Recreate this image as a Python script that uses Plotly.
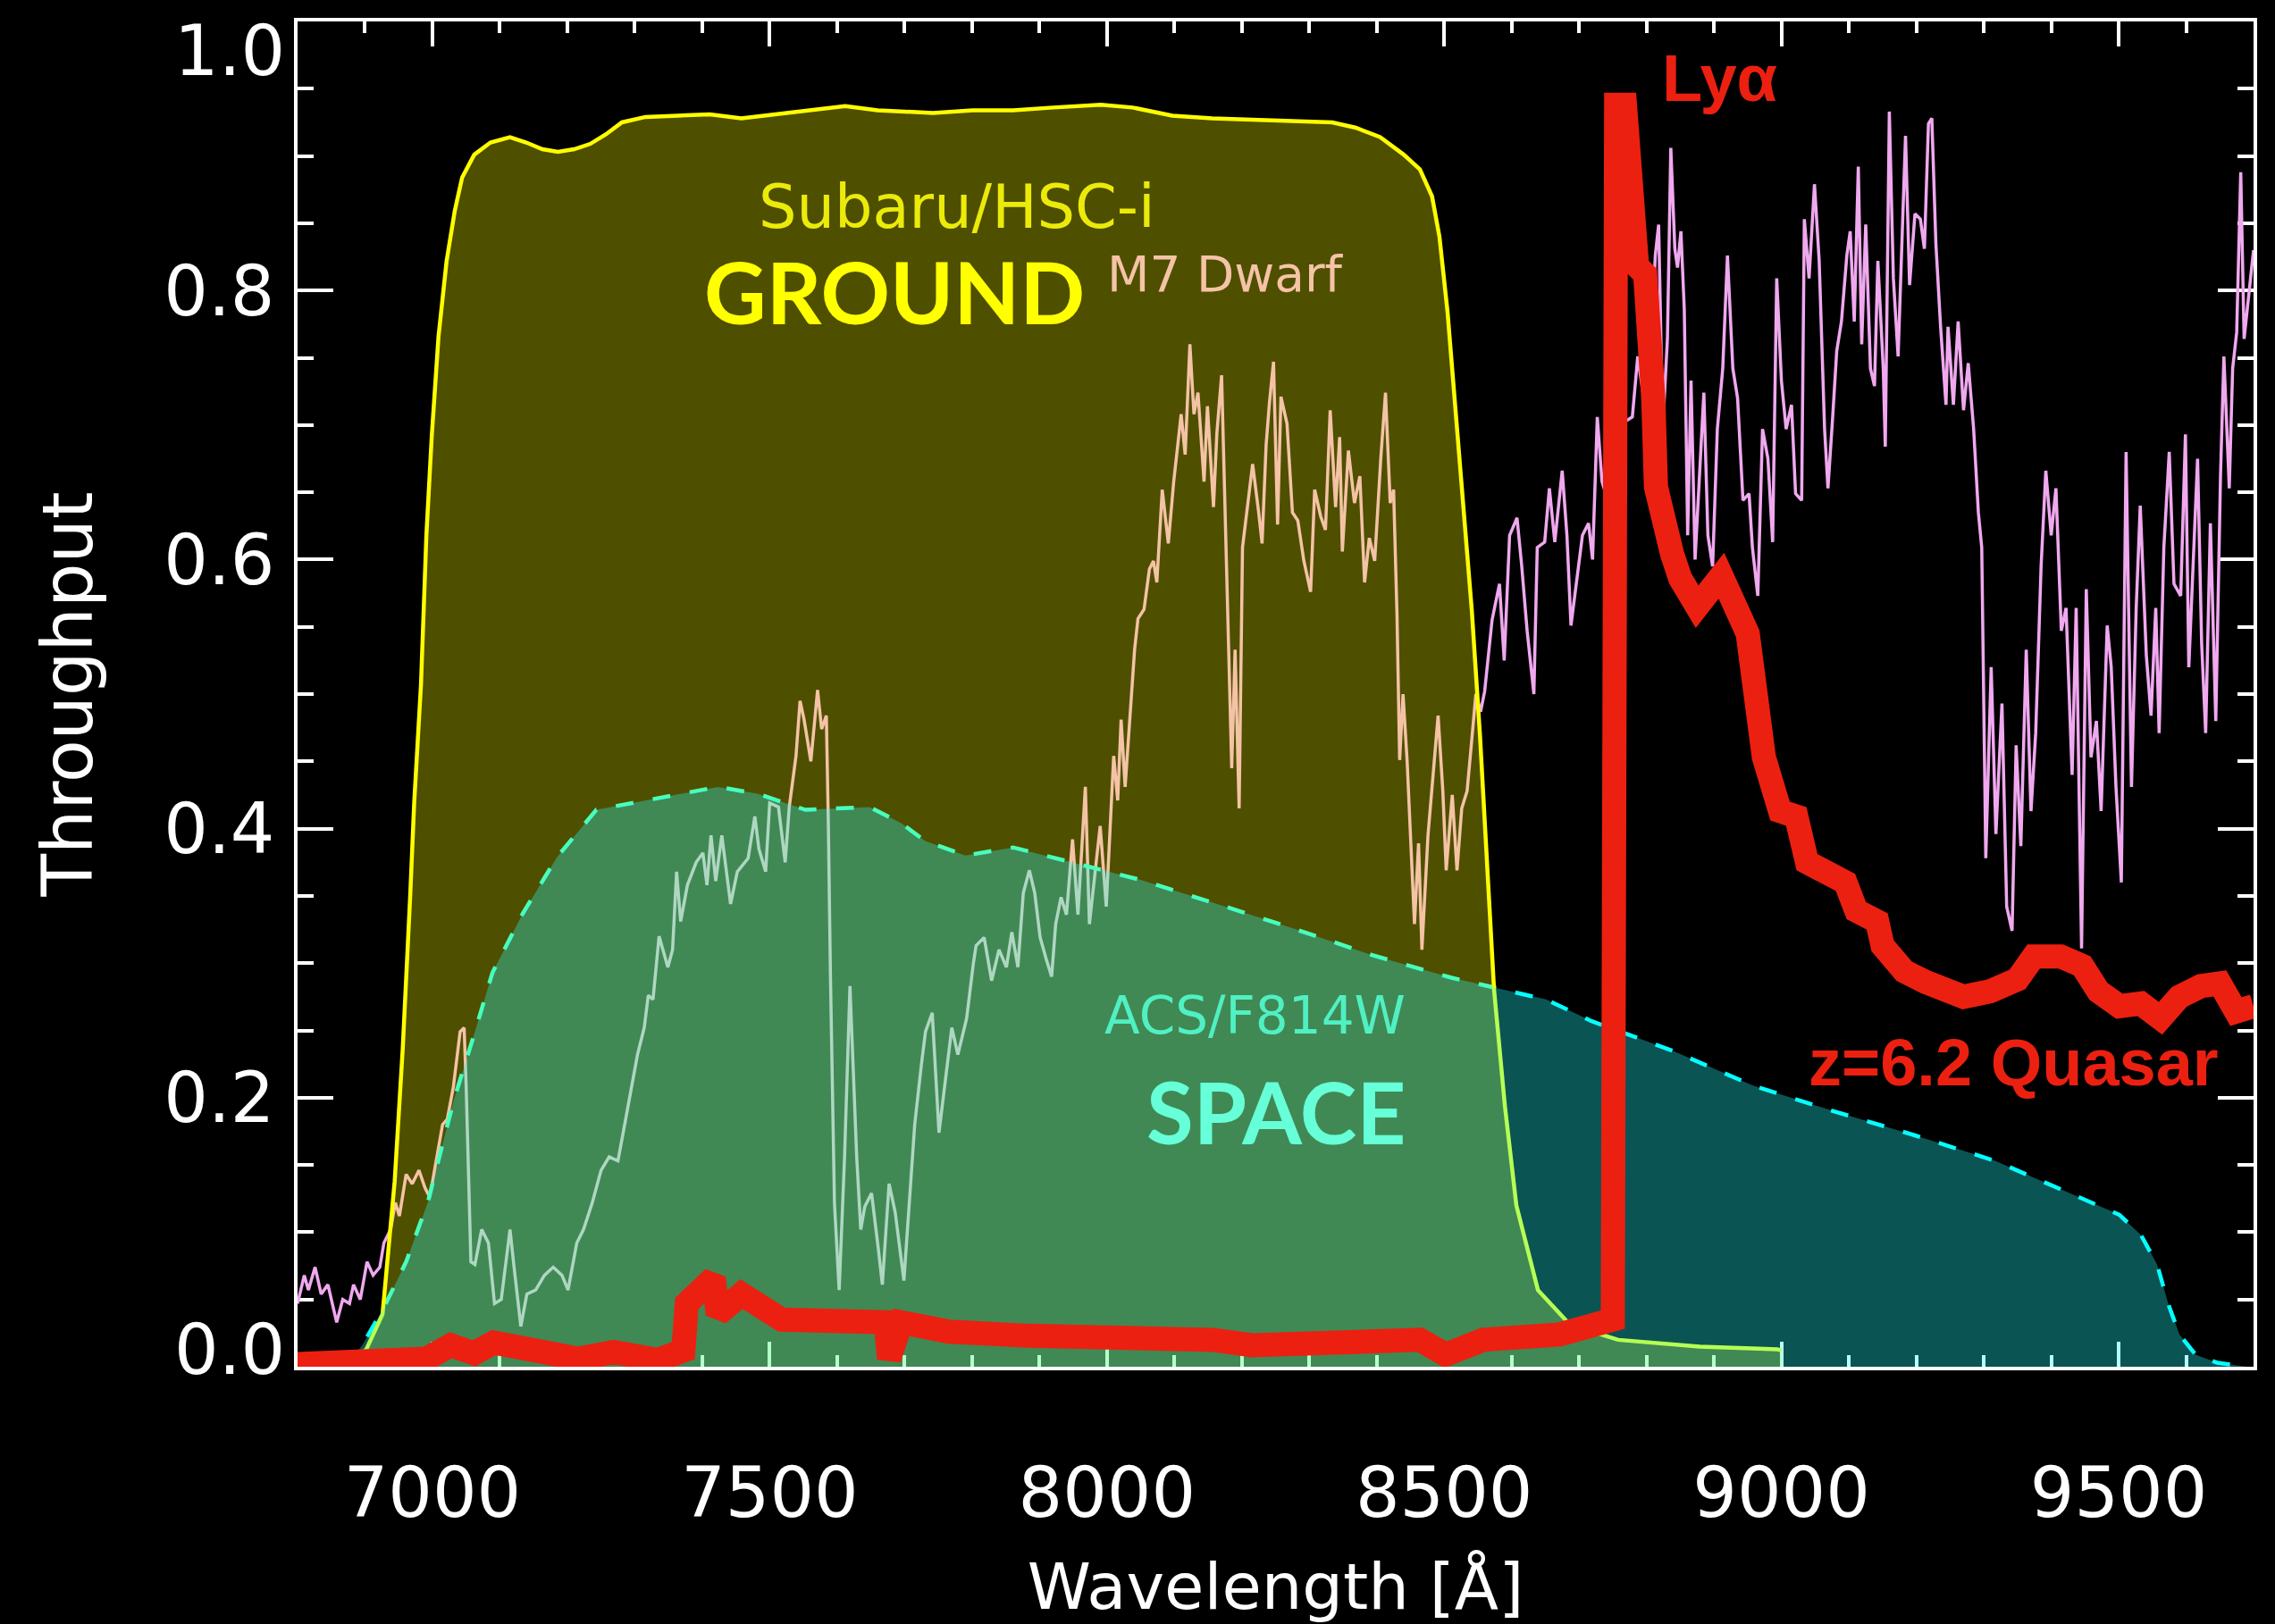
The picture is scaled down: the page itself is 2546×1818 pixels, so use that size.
import plotly.graph_objects as go

# --- M7 dwarf spectrum (normalised flux) ---
dwarf_wave = [
    6800, 6810, 6816, 6826, 6835, 6845, 6858, 6867, 6877, 6883, 6893, 6903, 6912, 6922, 6928, 6938,
    6945, 6951, 6961, 6970, 6980, 6989, 6996, 7006, 7015, 7022, 7031, 7041, 7047, 7050, 7057, 7063,
    7073, 7083, 7092, 7102, 7115, 7121, 7131, 7140, 7153, 7166, 7179, 7192, 7201, 7214, 7224, 7237,
    7250, 7262, 7275, 7285, 7295, 7304, 7314, 7320, 7327, 7336, 7349, 7356, 7362, 7368, 7378, 7391,
    7401, 7407, 7413, 7420, 7429, 7442, 7452, 7468, 7478, 7484, 7494, 7500, 7513, 7523, 7529, 7539,
    7545, 7551, 7561, 7571, 7577, 7584, 7587, 7590, 7596, 7603, 7611, 7619, 7629, 7635, 7641, 7651,
    7661, 7667, 7677, 7686, 7699, 7709, 7715, 7725, 7731, 7741, 7751, 7760, 7770, 7779, 7792, 7802,
    7806, 7818, 7829, 7840, 7851, 7859, 7868, 7876, 7885, 7893, 7901, 7910, 7918, 7924, 7932, 7940,
    7949, 7957, 7968, 7974, 7982, 7990, 7999, 8004, 8010, 8016, 8021, 8027, 8035, 8041, 8046, 8055,
    8063, 8069, 8074, 8082, 8091, 8099, 8105, 8110, 8116, 8123, 8129, 8135, 8144, 8149, 8158, 8163,
    8170, 8174, 8180, 8185, 8190, 8196, 8201, 8208, 8216, 8225, 8230, 8236, 8241, 8247, 8253, 8258,
    8267, 8275, 8283, 8292, 8302, 8308, 8317, 8324, 8331, 8339, 8345, 8349, 8358, 8367, 8375, 8382,
    8389, 8397, 8406, 8413, 8420, 8425, 8430, 8434, 8439, 8445, 8450, 8456, 8462, 8467, 8476, 8484,
    8491, 8498, 8503, 8512, 8519, 8526, 8534, 8540, 8547, 8554, 8560, 8571, 8582, 8589, 8597, 8608,
    8615, 8623, 8633, 8638, 8649, 8656, 8664, 8675, 8682, 8688, 8697, 8705, 8714, 8720, 8727, 8734,
    8745, 8760, 8779, 8787, 8801, 8813, 8818, 8824, 8831, 8836, 8842, 8846, 8851, 8856, 8861, 8866,
    8872, 8878, 8885, 8891, 8898, 8905, 8913, 8920, 8928, 8935, 8943, 8952, 8957, 8965, 8972, 8980,
    8987, 8993, 9000, 9007, 9015, 9021, 9030, 9034, 9041, 9049, 9056, 9064, 9069, 9076, 9082, 9089,
    9097, 9102, 9108, 9114, 9119, 9125, 9132, 9138, 9143, 9151, 9154, 9160, 9166, 9173, 9178, 9184,
    9190, 9198, 9206, 9212, 9218, 9223, 9229, 9236, 9244, 9247, 9255, 9262, 9270, 9277, 9285, 9292,
    9297, 9303, 9311, 9318, 9327, 9334, 9342, 9348, 9355, 9363, 9370, 9377, 9385, 9392, 9400, 9407,
    9415, 9422, 9431, 9437, 9445, 9452, 9459, 9467, 9474, 9483, 9489, 9496, 9504, 9511, 9519, 9526,
    9532, 9541, 9548, 9555, 9560, 9567, 9575, 9582, 9592, 9599, 9604, 9612, 9617, 9623, 9629, 9636,
    9644, 9651, 9656, 9664, 9669, 9675, 9681, 9686, 9693, 9700,
]
dwarf_flux = [
    0.047, 0.068, 0.057, 0.074, 0.054, 0.061, 0.033, 0.050, 0.047, 0.061, 0.050, 0.078, 0.068, 0.074, 0.092, 0.102,
    0.122, 0.112, 0.143, 0.136, 0.146, 0.133, 0.126, 0.156, 0.180, 0.184, 0.208, 0.249, 0.252, 0.208, 0.078, 0.076,
    0.102, 0.092, 0.047, 0.050, 0.102, 0.074, 0.030, 0.054, 0.057, 0.068, 0.074, 0.068, 0.057, 0.092, 0.102, 0.122,
    0.146, 0.156, 0.153, 0.180, 0.208, 0.232, 0.252, 0.276, 0.273, 0.320, 0.297, 0.310, 0.368, 0.331, 0.358, 0.375,
    0.382, 0.358, 0.395, 0.361, 0.395, 0.344, 0.368, 0.378, 0.409, 0.385, 0.368, 0.419, 0.416, 0.375, 0.416, 0.454,
    0.495, 0.481, 0.450, 0.503, 0.474, 0.484, 0.402, 0.293, 0.122, 0.057, 0.156, 0.283, 0.156, 0.102, 0.119, 0.129,
    0.088, 0.061, 0.136, 0.115, 0.064, 0.133, 0.180, 0.225, 0.249, 0.263, 0.174, 0.211, 0.252, 0.232, 0.259, 0.300,
    0.313, 0.319, 0.287, 0.310, 0.297, 0.323, 0.297, 0.352, 0.369, 0.352, 0.319, 0.303, 0.290, 0.329, 0.349, 0.336,
    0.392, 0.336, 0.431, 0.329, 0.366, 0.402, 0.342, 0.389, 0.454, 0.421, 0.481, 0.431, 0.494, 0.533, 0.556, 0.563,
    0.593, 0.599, 0.583, 0.652, 0.612, 0.658, 0.685, 0.708, 0.678, 0.760, 0.708, 0.724, 0.658, 0.714, 0.639, 0.694,
    0.737, 0.658, 0.543, 0.445, 0.533, 0.415, 0.609, 0.639, 0.671, 0.635, 0.612, 0.685, 0.717, 0.747, 0.626, 0.721,
    0.701, 0.635, 0.629, 0.599, 0.576, 0.652, 0.632, 0.622, 0.711, 0.639, 0.691, 0.606, 0.681, 0.642, 0.662, 0.583,
    0.616, 0.599, 0.675, 0.724, 0.642, 0.652, 0.560, 0.451, 0.500, 0.451, 0.395, 0.329, 0.389, 0.310, 0.395, 0.445,
    0.484, 0.428, 0.369, 0.425, 0.369, 0.415, 0.428, 0.461, 0.500, 0.487, 0.502, 0.555, 0.582, 0.525, 0.618, 0.631,
    0.595, 0.547, 0.500, 0.609, 0.613, 0.653, 0.613, 0.666, 0.618, 0.551, 0.587, 0.618, 0.627, 0.600, 0.706, 0.658,
    0.640, 0.700, 0.706, 0.751, 0.702, 0.826, 0.849, 0.697, 0.764, 0.906, 0.831, 0.817, 0.844, 0.786, 0.618, 0.733,
    0.600, 0.662, 0.724, 0.618, 0.595, 0.697, 0.742, 0.826, 0.742, 0.720, 0.644, 0.649, 0.609, 0.573, 0.697, 0.675,
    0.613, 0.809, 0.733, 0.697, 0.715, 0.649, 0.644, 0.853, 0.809, 0.879, 0.822, 0.697, 0.653, 0.706, 0.755, 0.777,
    0.826, 0.844, 0.777, 0.892, 0.760, 0.849, 0.742, 0.729, 0.822, 0.742, 0.684, 0.933, 0.809, 0.751, 0.831, 0.915,
    0.804, 0.857, 0.853, 0.831, 0.924, 0.928, 0.835, 0.773, 0.715, 0.773, 0.715, 0.777, 0.711, 0.746, 0.697, 0.635,
    0.609, 0.378, 0.520, 0.396, 0.493, 0.342, 0.324, 0.462, 0.387, 0.533, 0.413, 0.471, 0.595, 0.666, 0.618, 0.653,
    0.547, 0.564, 0.440, 0.564, 0.311, 0.578, 0.453, 0.480, 0.413, 0.551, 0.520, 0.431, 0.360, 0.680, 0.431, 0.564,
    0.640, 0.529, 0.484, 0.564, 0.471, 0.609, 0.680, 0.582, 0.573, 0.693, 0.520, 0.618, 0.675, 0.538, 0.471, 0.627,
    0.480, 0.662, 0.751, 0.653, 0.742, 0.769, 0.888, 0.764, 0.800, 0.830,
]

# --- Subaru/HSC-i throughput ---
hsc_wave = [6850, 6880, 6902, 6926, 6944, 6956, 6967, 6973, 6983, 6991, 6999, 7009, 7021, 7033, 7044,
            7062, 7086, 7115, 7139, 7163, 7186, 7210, 7234, 7257, 7281, 7316, 7364, 7411, 7458, 7506,
            7565, 7612, 7660, 7695, 7742, 7801, 7861, 7920, 7991, 8038, 8097, 8156, 8215, 8275, 8334,
            8369, 8405, 8440, 8464, 8482, 8493, 8505, 8517, 8529, 8541, 8553, 8564, 8574, 8590, 8607,
            8639, 8687, 8758, 8879, 8994, 9000]
hsc_thr = [0.0, 0.004, 0.013, 0.039, 0.138, 0.237, 0.350, 0.420, 0.507, 0.618, 0.692, 0.766, 0.822, 0.859, 0.884,
           0.901, 0.910, 0.914, 0.910, 0.905, 0.903, 0.905, 0.909, 0.916, 0.925, 0.929, 0.930, 0.931, 0.928, 0.931,
           0.934, 0.937, 0.934, 0.933, 0.932, 0.934, 0.934, 0.936, 0.938, 0.936, 0.930, 0.928, 0.927, 0.926, 0.925,
           0.921, 0.914, 0.901, 0.890, 0.870, 0.840, 0.784, 0.711, 0.636, 0.562, 0.470, 0.371, 0.280, 0.194, 0.120,
           0.057, 0.031, 0.020, 0.015, 0.013, 0.012]

# --- HST ACS/F814W throughput ---
acs_wave = [6870, 6896, 6928, 6961, 6993, 7031, 7063, 7089, 7134, 7185, 7243, 7317, 7423, 7482, 7553,
            7648, 7695, 7730, 7790, 7861, 7931, 8049, 8157, 8275, 8393, 8512, 8651, 8718, 8838, 8958,
            9077, 9198, 9317, 9438, 9501, 9533, 9557, 9574, 9590, 9614, 9646, 9690]
acs_thr = [0.0, 0.016, 0.044, 0.078, 0.122, 0.197, 0.249, 0.293, 0.337, 0.379, 0.414, 0.421, 0.431, 0.426, 0.414,
           0.416, 0.404, 0.391, 0.380, 0.386, 0.377, 0.362, 0.345, 0.326, 0.306, 0.289, 0.273, 0.257, 0.235, 0.209,
           0.190, 0.172, 0.153, 0.127, 0.113, 0.098, 0.076, 0.046, 0.024, 0.009, 0.003, 0.0]

# --- z=6.2 quasar template ---
qso_wave = [6800, 6991, 7027, 7062, 7091, 7216, 7269, 7334, 7372, 7377, 7417, 7423, 7458, 7518, 7672,
            7677, 7695, 7766, 7884, 8003, 8157, 8215, 8322, 8464, 8502, 8558, 8671, 8750, 8755, 8768,
            8786, 8798, 8810, 8814, 8838, 8850, 8875, 8911, 8950, 8974, 8998, 9022, 9038, 9069, 9095,
            9111, 9142, 9150, 9182, 9214, 9270, 9309, 9350, 9374, 9414, 9446, 9470, 9501, 9533, 9562,
            9590, 9622, 9650, 9674, 9700]
qso_flux = [0.002, 0.006, 0.016, 0.010, 0.018, 0.006, 0.011, 0.005, 0.012, 0.047, 0.066, 0.039, 0.054, 0.035, 0.033,
            0.006, 0.033, 0.026, 0.023, 0.023, 0.020, 0.016, 0.016, 0.020, 0.009, 0.020, 0.024, 0.035, 0.938, 0.938,
            0.818, 0.812, 0.720, 0.654, 0.604, 0.586, 0.565, 0.588, 0.545, 0.453, 0.413, 0.409, 0.375, 0.364, 0.360,
            0.339, 0.331, 0.313, 0.294, 0.286, 0.275, 0.279, 0.288, 0.305, 0.305, 0.298, 0.279, 0.268, 0.270, 0.259,
            0.275, 0.283, 0.285, 0.264, 0.268]

x_ticks = [7000, 7500, 8000, 8500, 9000, 9500]
y_ticks = [0.0, 0.2, 0.4, 0.6, 0.8, 1.0]

DWARF = "rgb(240,168,239)"
YELLOW = "rgb(255,255,0)"
CYAN = "rgb(0,255,255)"
RED = "rgb(236,32,16)"
LABEL_FONT = "DejaVu Sans"

fig = go.Figure()

# dwarf spectrum sits underneath both filter fills
fig.add_trace(go.Scatter(x=dwarf_wave, y=dwarf_flux, mode="lines",
                         line=dict(color=DWARF, width=3.5), hoverinfo="skip"))
# ACS edge (dashed) drawn before the HSC fill so it is tinted inside it
fig.add_trace(go.Scatter(x=acs_wave, y=acs_thr, mode="lines",
                         line=dict(color=CYAN, width=4.5, dash="20px,22px"), hoverinfo="skip"))
# HSC-i filter: translucent yellow fill with solid edge
fig.add_trace(go.Scatter(x=hsc_wave, y=hsc_thr, mode="lines", fill="tozeroy",
                         fillcolor="rgba(255,255,0,0.31)",
                         line=dict(color=YELLOW, width=4.5), hoverinfo="skip"))
# ACS/F814W fill on top
fig.add_trace(go.Scatter(x=acs_wave, y=acs_thr, mode="lines", fill="tozeroy",
                         fillcolor="rgba(34,255,255,0.33)",
                         line=dict(color="rgba(0,0,0,0)", width=0), hoverinfo="skip"))
# quasar
fig.add_trace(go.Scatter(x=qso_wave, y=qso_flux, mode="lines",
                         line=dict(color=RED, width=27), hoverinfo="skip"))

ann = [
    dict(x=7778, y=0.862, text="Subaru/HSC-i", font=dict(family=LABEL_FONT, size=67, color="rgb(235,235,10)")),
    dict(x=7685, y=0.800, text="GROUND", font=dict(family="Lato", size=96, color=YELLOW, weight="bold")),
    dict(x=8176, y=0.812, text="M7 Dwarf", font=dict(family=LABEL_FONT, size=55, color="rgb(245,195,165)")),
    dict(x=8220, y=0.261, text="ACS/F814W", font=dict(family=LABEL_FONT, size=58, color="rgb(80,240,195)")),
    dict(x=8251, y=0.190, text="SPACE", font=dict(family="Lato", size=96, color="rgb(102,255,216)", weight="bold")),
    dict(x=8908, y=0.958, text="Lyα", font=dict(family="Liberation Sans", size=74, color=RED, weight="bold")),
    dict(x=9344, y=0.226, text="z=6.2 Quasar", font=dict(family="Liberation Sans", size=74, color=RED, weight="bold")),
]
for a in ann:
    fig.add_annotation(xref="x", yref="y", showarrow=False, xanchor="center", yanchor="middle", **a)

# end labels of the y axis sit just inside the frame
y_text = [f"{v:.1f}" for v in y_ticks]
end_shift = {0.0: 19, 1.0: -33}
for v, t in zip(y_ticks, y_text):
    if v in end_shift:
        fig.add_annotation(xref="paper", yref="y", x=0, y=v, xanchor="right", yanchor="middle",
                           xshift=-12, yshift=end_shift[v], text=t, showarrow=False,
                           font=dict(family=LABEL_FONT, size=78, color="white"))

axis_common = dict(
    showgrid=False, zeroline=False, showline=True, linecolor="white", linewidth=4,
    mirror="allticks", ticks="inside", tickcolor="white", tickwidth=4,
    tickfont=dict(family=LABEL_FONT, size=78, color="white"),
    layer="below traces",
)

fig.update_xaxes(range=[6800, 9700], tickvals=x_ticks, ticktext=[str(v) for v in x_ticks],
                 ticklen=28, ticklabelstandoff=70,
                 minor=dict(dtick=100, tick0=6800, ticklen=13, tickwidth=4, tickcolor="white", ticks="inside"),
                 title=dict(text="Wavelength [Å]", font=dict(family=LABEL_FONT, size=72, color="white"), standoff=40),
                 **axis_common)
fig.update_yaxes(range=[0, 1], tickvals=y_ticks,
                 ticktext=["" if v in end_shift else t for v, t in zip(y_ticks, y_text)],
                 ticklen=40, ticklabelstandoff=6,
                 minor=dict(dtick=0.05, tick0=0, ticklen=18, tickwidth=4, tickcolor="white", ticks="inside"),
                 title=dict(text="Throughput", font=dict(family=LABEL_FONT, size=78, color="white"), standoff=55),
                 **axis_common)

fig.update_layout(
    width=2546, height=1818,
    margin=dict(l=333, r=24, t=24, b=243),
    paper_bgcolor="black", plot_bgcolor="black",
    showlegend=False,
)

fig.write_html("out.html")
